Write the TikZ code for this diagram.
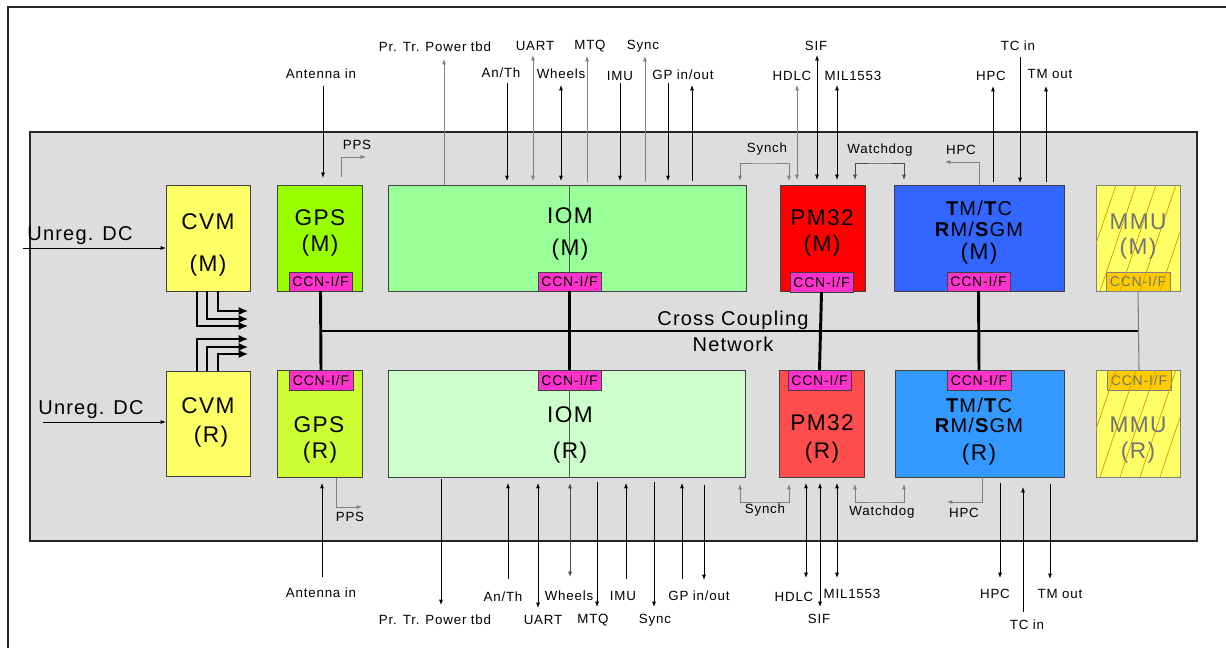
\documentclass[tikz,border=0pt]{standalone}
\usepackage{fontspec}
\setmainfont{Liberation Sans}[LetterSpace=6]
\usetikzlibrary{arrows.meta,fit}
\definecolor{bgG}{HTML}{DDDDDD}
\definecolor{cvmY}{HTML}{FFFF66}
\definecolor{gpsM}{HTML}{99FF00}
\definecolor{gpsR}{HTML}{CCFF33}
\definecolor{iomM}{HTML}{99FF99}
\definecolor{iomR}{HTML}{CCFFCC}
\definecolor{pmM}{HTML}{FF0000}
\definecolor{pmR}{HTML}{FF4D4D}
\definecolor{tmM}{HTML}{3366FF}
\definecolor{tmR}{HTML}{3399FF}
\definecolor{ccnC}{HTML}{FF33CC}
\definecolor{ccnO}{HTML}{FFCC00}
\definecolor{hatchC}{HTML}{CC9900}
\begin{document}
\begin{tikzpicture}[x=0.75pt,y=-0.75pt,
  box/.style={draw=black!75, line width=0.6pt, inner sep=0pt, outer sep=0pt},
  ccn/.style={box, fill=ccnC},
  ccnmmu/.style={box, draw=black!50, fill=ccnO},
  ccntxt/.style={font=\fontsize{10.5}{11}\selectfont, inner sep=0pt},
  big/.style={font=\fontsize{17}{19}\selectfont, inner sep=0pt},
  tmtxt/.style={font=\fontsize{15}{17}\selectfont, inner sep=0pt},
  lbl/.style={font=\fontsize{10}{11}\selectfont, inner sep=0pt},
  dctxt/.style={font=\fontsize{15}{17}\selectfont, inner sep=0pt},
  nettxt/.style={font=\fontsize{15}{17}\selectfont, inner sep=0pt},
  sig/.style={line width=0.6pt, draw=black},
  gsig/.style={line width=0.6pt, draw=black!50},
  dsig/.style={line width=0.6pt, draw=black!70},
  net/.style={line width=2.2pt, draw=black},
  cvmarr/.style={line width=1pt, draw=black, -{Latex[length=7pt,width=6pt]}},
  >={Latex[length=4pt,width=3pt]}]
\useasboundingbox (0,0) rectangle (1226,648);

% outer frame
\coordinate (frBL) at (8,648); \coordinate (frTL) at (8,7); \coordinate (frTR) at (1226,7);
\draw[line width=1.2pt, black!85] (frBL) -- (frTL) -- (frTR);

% background box
\node[fill=bgG, draw=black!85, line width=1.2pt, inner sep=0pt, fit={(30,132)(1197,541)}] (bg) {};

% modules
\node[box, fill=cvmY, fit={(166,185)(250,291)}] (cvmm) {};
\node[box, fill=cvmY, fit={(166,371)(250,476)}] (cvmr) {};
\node[box, fill=gpsM, fit={(277,185)(362,291)}] (gpsm) {};
\node[box, fill=gpsR, fit={(277,370)(362,477)}] (gpsr) {};
\node[box, fill=iomM, fit={(388,185)(746,291)}] (iomm) {};
\node[box, fill=iomR, fit={(388,370)(745,477)}] (iomr) {};
\node[box, fill=pmM, fit={(780,185)(865,291)}] (pmm) {};
\node[box, fill=pmR, fit={(779,370)(864,477)}] (pmr) {};
\node[box, fill=tmM, fit={(894,185)(1064,291)}] (tmm) {};
\node[box, fill=tmR, fit={(895,370)(1064,477)}] (tmr) {};
\node[box, draw=black!50, fill=cvmY, fit={(1096,185)(1180,291)}] (mmum) {};
\node[box, draw=black!50, fill=cvmY, fit={(1096,370)(1180,477)}] (mmur) {};

% CCN interfaces
\node[ccn, fit={(289,272)(352,291)}] (gpsmc) {};
\node[ccn, fit={(289,370)(353,390)}] (gpsrc) {};
\node[ccn, fit={(538,272)(601,291)}] (iommc) {};
\node[ccn, fit={(538,370)(601,390)}] (iomrc) {};
\node[ccn, fit={(790,272)(853,292)}] (pmmc) {};
\node[ccn, fit={(788,370)(851,390)}] (pmrc) {};
\node[ccn, fit={(947,272)(1010,291)}] (tmmc) {};
\node[ccn, fit={(947,370)(1011,390)}] (tmrc) {};
\node[ccnmmu, fit={(1106,272)(1170,291)}] (mmumc) {};
\node[ccnmmu, fit={(1107,370)(1171,390)}] (mmurc) {};
\foreach \c in {gpsmc,gpsrc,iommc,iomrc,pmmc,pmrc,tmmc,tmrc}
  \node[ccntxt] (\c t) at (\c.center) {CCN-I/F};
\foreach \c in {mmumc,mmurc}
  \node[ccntxt, text=black!55] (\c t) at (\c.center) {CCN-I/F};

% MMU hatching
\begin{scope}
  \clip (mmum.south west) rectangle (mmum.north east);
  \foreach \x in {1060,1080,...,1180} \draw[hatchC, line width=0.5pt] (\x,291) -- ++(36,-106);
\end{scope}
\begin{scope}
  \clip (mmur.south west) rectangle (mmur.north east);
  \foreach \x in {1060,1080,...,1180} \draw[hatchC, line width=0.5pt] (\x,477) -- ++(36,-107);
\end{scope}

% thin lines in IOM
\draw[line width=0.5pt, black!65] (iommc.north |- iomm.north) -- (iommc.north);
\draw[line width=0.5pt, black!65] (iomrc.south) -- (iomrc.south |- iomr.south);

% module texts
\node[big] (tcvmm1) at (208,222) {CVM};
\node[big] (tcvmm2) at (208,266) {(M)};
\node[big] (tcvmr1) at (208,406) {CVM};
\node[big] (tcvmr2) at (211,437) {(R)};
\node[big] (tgpsm1) at (320,218) {GPS};
\node[big] (tgpsm2) at (320,246) {(M)};
\node[big] (tgpsr1) at (319,425) {GPS};
\node[big] (tgpsr2) at (320,453) {(R)};
\node[big] (tiomm1) at (570,216) {IOM};
\node[big] (tiomm2) at (570,250) {(M)};
\node[big] (tiomr1) at (570,415) {IOM};
\node[big] (tiomr2) at (570,453) {(R)};
\node[big] (tpmm1) at (822,218) {PM32};
\node[big] (tpmm2) at (822,246) {(M)};
\node[big] (tpmr1) at (822,423) {PM32};
\node[big] (tpmr2) at (822,453) {(R)};
\node[tmtxt] (ttmm1) at (979,208) {\textbf{T}M/\textbf{T}C};
\node[tmtxt] (ttmm2) at (979,229) {\textbf{R}M/\textbf{S}GM};
\node[big] (ttmm3) at (979,254) {(M)};
\node[tmtxt] (ttmr1) at (979,405) {\textbf{T}M/\textbf{T}C};
\node[tmtxt] (ttmr2) at (979,425) {\textbf{R}M/\textbf{S}GM};
\node[big] (ttmr3) at (979,455) {(R)};
\node[big, text=black!55] (tmmum1) at (1138,222) {MMU};
\node[big, text=black!55] (tmmum2) at (1138,249) {(M)};
\node[big, text=black!55] (tmmur1) at (1138,425) {MMU};
\node[big, text=black!55] (tmmur2) at (1138,453) {(R)};

% cross coupling network
\coordinate (netL) at (320,331); \coordinate (netR) at (1138,331);
\draw[net] (netL) -- (netR);
\draw[net] (gpsmc.south) -- (gpsrc.north);
\draw[net] (iommc.south) -- (iomrc.north);
\draw[net] (pmmc.south) -- (pmrc.north);
\draw[net] (tmmc.south) -- (tmrc.north);
\draw[line width=0.8pt, black!50] (mmumc.south) -- (mmurc.north);
\node[nettxt] (ccn1) at (733,320) {Cross Coupling};
\node[nettxt] (ccn2) at (733,344) {Network};

% Unreg DC
\node[dctxt] (udc1) at (80,236) {Unreg. DC};
\node[dctxt] (udc2) at (91,410) {Unreg. DC};
\coordinate (udcA) at (23,248); \coordinate (udcB) at (43,422);
\draw[sig,->] (udcA) -- (udcA -| cvmm.west);
\draw[sig,->] (udcB) -- (udcB -| cvmr.west);

% CVM power arrows
\foreach \n/\x/\y in {cvA1/218/291, cvA2/207/291, cvA3/197/291,
  cvB1/197/371, cvB2/207/371, cvB3/218/371,
  cvA1e/248/311, cvA2e/248/319, cvA3e/248/326,
  cvB1e/248/339, cvB2e/248/347, cvB3e/248/354} \coordinate (\n) at (\x,\y);
\foreach \n in {cvA1,cvA2,cvA3,cvB1,cvB2,cvB3} \draw[cvmarr] (\n) |- (\n e);

% signal end points
\foreach \n/\x/\y in {
  antT1/323/86, antT2/323/178, ppsT1/341/177, ppsT2/366/157,
  prT1/444/185, prT2/444/59, anthT1/507/83, anthT2/507/181,
  uartT1/533/55, uartT2/533/181, wheT1/561/85, wheT2/561/181,
  mtqT1/587/182, mtqT2/587/56, imuT1/620/83, imuT2/620/181,
  syncT1/645/182, syncT2/645/56, gpaT1/668/83, gpaT2/668/181,
  gpbT1/692/181, gpbT2/692/85,
  synchT1/740/181, synchTm/765/163, synchT2/789/181,
  hdlcT1/797/85, hdlcT2/797/180, sifT1/817/55, sifT2/817/180,
  milT1/837/85, milT2/837/180,
  wdT1/855/180, wdTm/880/163, wdT2/904/180,
  hpciT1/979/185, hpciT2/945/162, hpcT1/993/182, hpcT2/993/86,
  tcT1/1020/57, tcT2/1020/183, tmT1/1046/182, tmT2/1046/86,
  antB1/322/577, antB2/322/483, ppsB1/336/478, ppsB2/362/507,
  prB1/441/479, prB2/441/605, anthB1/508/579, anthB2/508/483,
  uartB1/538/483, uartB2/538/608, wheB1/570/483, wheB2/570/577,
  mtqB1/597/482, mtqB2/597/607, imuB1/626/579, imuB2/626/483,
  syncB1/654/482, syncB2/654/607, gpaB1/682/579, gpaB2/682/483,
  gpbB1/704/485, gpbB2/704/580,
  synchB1/740/484, synchBm/765/502, synchB2/789/484,
  hdlcB1/806/483, hdlcB2/806/578, sifB1/820/483, sifB2/820/607,
  milB1/837/483, milB2/837/578,
  wdB1/855/484, wdBm/880/502, wdB2/904/484,
  hpciB1/982/477, hpciB2/947/502, hpcB1/1000/483, hpcB2/1000/578,
  tcB1/1023/612, tcB2/1023/487, tmB1/1050/484, tmB2/1050/579}
  \coordinate (\n) at (\x,\y);

% top signals
\draw[sig,->] (antT1) -- (antT2);
\draw[gsig,->] (ppsT1) |- (ppsT2);
\draw[gsig,->] (prT1) -- (prT2);
\draw[sig,->] (anthT1) -- (anthT2);
\draw[gsig,<->] (uartT1) -- (uartT2);
\draw[sig,<->] (wheT1) -- (wheT2);
\draw[gsig,->] (mtqT1) -- (mtqT2);
\draw[sig,->] (imuT1) -- (imuT2);
\draw[gsig,->] (syncT1) -- (syncT2);
\draw[sig,->] (gpaT1) -- (gpaT2);
\draw[sig,->] (gpbT1) -- (gpbT2);
\draw[gsig,<->] (synchT1) |- (synchTm) -| (synchT2);
\draw[gsig,<->] (hdlcT1) -- (hdlcT2);
\draw[sig,<->] (sifT1) -- (sifT2);
\draw[sig,<->] (milT1) -- (milT2);
\draw[dsig,<->] (wdT1) |- (wdTm) -| (wdT2);
\draw[gsig,->] (hpciT1) |- (hpciT2);
\draw[sig,->] (hpcT1) -- (hpcT2);
\draw[sig,->] (tcT1) -- (tcT2);
\draw[sig,->] (tmT1) -- (tmT2);

% bottom signals
\draw[sig,->] (antB1) -- (antB2);
\draw[gsig,->] (ppsB1) |- (ppsB2);
\draw[sig,->] (prB1) -- (prB2);
\draw[sig,->] (anthB1) -- (anthB2);
\draw[sig,<->] (uartB1) -- (uartB2);
\draw[dsig,<->] (wheB1) -- (wheB2);
\draw[sig,->] (mtqB1) -- (mtqB2);
\draw[sig,->] (imuB1) -- (imuB2);
\draw[sig,->] (syncB1) -- (syncB2);
\draw[sig,->] (gpaB1) -- (gpaB2);
\draw[sig,->] (gpbB1) -- (gpbB2);
\draw[gsig,<->] (synchB1) |- (synchBm) -| (synchB2);
\draw[sig,<->] (hdlcB1) -- (hdlcB2);
\draw[sig,<->] (sifB1) -- (sifB2);
\draw[sig,<->] (milB1) -- (milB2);
\draw[gsig,<->] (wdB1) |- (wdBm) -| (wdB2);
\draw[gsig,->] (hpciB1) |- (hpciB2);
\draw[sig,->] (hpcB1) -- (hpcB2);
\draw[sig,->] (tcB1) -- (tcB2);
\draw[sig,->] (tmB1) -- (tmB2);

% top labels
\node[lbl] (lantT) at (321,74) {Antenna in};
\node[lbl] (lppsT) at (357,145) {PPS};
\node[lbl] (lprT) at (435,47) {Pr. Tr. Power tbd};
\node[lbl] (lanthT) at (501,73) {An/Th};
\node[lbl] (luartT) at (535,46) {UART};
\node[lbl] (lwheT) at (561,74) {Wheels};
\node[lbl] (lmtqT) at (590,46) {MTQ};
\node[lbl] (limuT) at (620,76) {IMU};
\node[lbl] (lsyncT) at (643,46) {Sync};
\node[lbl] (lgpT) at (683,75) {GP in/out};
\node[lbl] (lsynchT) at (767,149) {Synch};
\node[lbl] (lhdlcT) at (792,76) {HDLC};
\node[lbl] (lsifT) at (816,46) {SIF};
\node[lbl] (lmilT) at (853,76) {MIL1553};
\node[lbl] (lwdT) at (880,150) {Watchdog};
\node[lbl] (lhpciT) at (961,150) {HPC};
\node[lbl] (lhpcT) at (991,76) {HPC};
\node[lbl] (ltcT) at (1018,46) {TC in};
\node[lbl] (ltmT) at (1050,74) {TM out};

% bottom labels
\node[lbl] (lantB) at (321,593) {Antenna in};
\node[lbl] (lppsB) at (350,517) {PPS};
\node[lbl] (lprB) at (435,620) {Pr. Tr. Power tbd};
\node[lbl] (lanthB) at (503,597) {An/Th};
\node[lbl] (luartB) at (543,620) {UART};
\node[lbl] (lwheB) at (569,596) {Wheels};
\node[lbl] (lmtqB) at (593,620) {MTQ};
\node[lbl] (limuB) at (623,596) {IMU};
\node[lbl] (lsyncB) at (655,620) {Sync};
\node[lbl] (lgpB) at (699,596) {GP in/out};
\node[lbl] (lsynchB) at (765,510) {Synch};
\node[lbl] (lhdlcB) at (794,597) {HDLC};
\node[lbl] (lsifB) at (819,619) {SIF};
\node[lbl] (lmilB) at (852,594) {MIL1553};
\node[lbl] (lwdB) at (882,512) {Watchdog};
\node[lbl] (lhpciB) at (964,513) {HPC};
\node[lbl] (lhpcB) at (995,594) {HPC};
\node[lbl] (ltcB) at (1027,625) {TC in};
\node[lbl] (ltmB) at (1060,594) {TM out};
\end{tikzpicture}
\end{document}
